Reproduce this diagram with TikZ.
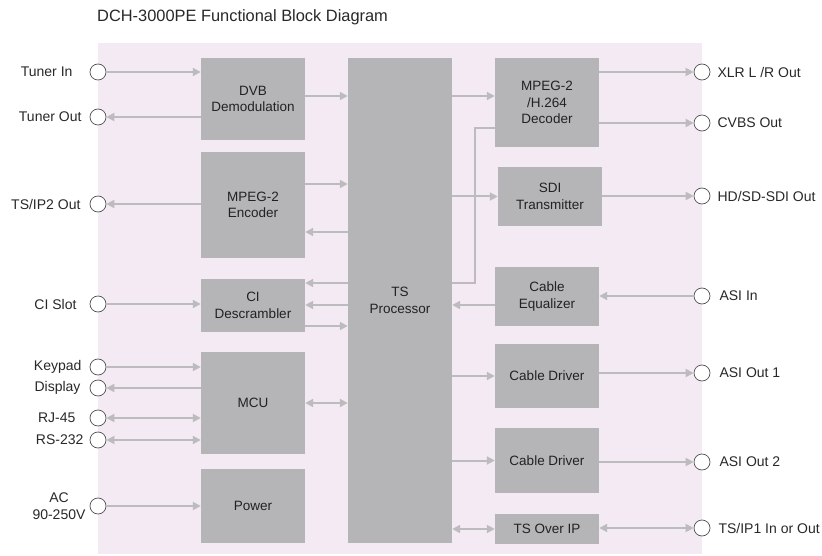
\documentclass[tikz,border=0pt]{standalone}
\usepackage{fontspec}
\setmainfont{Liberation Sans}
\usepackage{xcolor}
\usetikzlibrary{arrows.meta, positioning, calc, backgrounds}
\definecolor{panelBg}{RGB}{244, 234, 244}
\definecolor{blockFill}{RGB}{181, 181, 183}
\definecolor{blockText}{RGB}{34, 34, 34}
\definecolor{wireGray}{RGB}{188, 188, 190}
\definecolor{portBorder}{RGB}{80, 80, 80}
\definecolor{labelText}{RGB}{40, 40, 40}

\begin{document}
\begin{tikzpicture}[
    x=1pt, y=-1pt,
    >={Triangle[length=8pt, width=8pt]},
    blockBox/.style={fill=blockFill, draw=none, minimum width=104pt, inner sep=2pt, align=center, text=blockText, font=\fontsize{13.5}{16.5}\selectfont},
    portDot/.style={circle, draw=portBorder, line width=0.7pt, fill=white, minimum size=16pt, inner sep=0pt},
    portText/.style={inner sep=0pt, text=labelText, align=center, font=\fontsize{14}{17.5}\selectfont},
    titleText/.style={inner sep=0pt, text=labelText, font=\fontsize{16.4}{19}\selectfont},
    sigArrow/.style={->, line width=2pt, draw=wireGray},
    biArrow/.style={<->, line width=2pt, draw=wireGray},
    wireLine/.style={line width=2pt, draw=wireGray}
]
    \useasboundingbox (0,0) rectangle (822,556);

    % Title
    \node[titleText, anchor=west] (title) at (97,17) {DCH-3000PE Functional Block Diagram};

    % Blocks
    \node[blockBox, minimum height=82pt] (dvb) at (253,99) {DVB\\Demodulation};
    \node[blockBox, minimum height=106pt] (enc) at (253,205) {MPEG-2\\Encoder};
    \node[blockBox, minimum height=53pt] (ci) at (253,305.5) {CI\\Descrambler};
    \node[blockBox, minimum height=102pt] (mcu) at (253,403) {MCU};
    \node[blockBox, minimum height=74pt] (pwr) at (253,506) {Power};
    \node[blockBox, minimum height=485pt] (ts) at (400,300.5) {TS\\Processor};
    \node[blockBox, minimum height=89pt] (dec) at (547,102.5) {MPEG-2\\/H.264\\Decoder};
    \node[blockBox, minimum height=59pt] (sdi) at (550,196.5) {SDI\\Transmitter};
    \node[blockBox, minimum height=59pt] (eq) at (547,296.5) {Cable\\Equalizer};
    \node[blockBox, minimum height=64pt] (drv1) at (547,376) {Cable Driver};
    \node[blockBox, minimum height=65pt] (drv2) at (547,460.5) {Cable Driver};
    \node[blockBox, minimum height=30pt] (tsip) at (547,529) {TS Over IP};

    % Ports, left
    \node[portDot] (tunIn) at (98,72) {};
    \node[portDot] (tunOut) at (98,117) {};
    \node[portDot] (ipTwo) at (98,204) {};
    \node[portDot] (ciSlot) at (98,304) {};
    \node[portDot] (keypad) at (98,367) {};
    \node[portDot] (display) at (98,388) {};
    \node[portDot] (rjPort) at (98,418) {};
    \node[portDot] (rsPort) at (98,440) {};
    \node[portDot] (acIn) at (98,506) {};

    \node[portText, left=17pt of tunIn] (tunInL) {Tuner In};
    \node[portText, left=8pt of tunOut] (tunOutL) {Tuner Out};
    \node[portText, left=9pt of ipTwo] (ipTwoL) {TS/IP2 Out};
    \node[portText, left=13pt of ciSlot] (ciSlotL) {CI Slot};
    \node[portText, left=8pt of keypad] (keypadL) {Keypad};
    \node[portText, left=9pt of display] (displayL) {Display};
    \node[portText, left=14pt of rjPort] (rjPortL) {RJ-45};
    \node[portText, left=6pt of rsPort] (rsPortL) {RS-232};
    \node[portText, left=4pt of acIn] (acInL) {AC\\90-250V};

    % Ports, right
    \node[portDot] (xlr) at (702,72) {};
    \node[portDot] (cvbs) at (702,123) {};
    \node[portDot] (hdsdi) at (702,196) {};
    \node[portDot] (asiIn) at (702,296) {};
    \node[portDot] (asiOne) at (702,373) {};
    \node[portDot] (asiTwo) at (702,462) {};
    \node[portDot] (ipOne) at (702,528) {};

    \node[portText, right=7pt of xlr] (xlrL) {XLR L /R Out};
    \node[portText, right=7pt of cvbs] (cvbsL) {CVBS Out};
    \node[portText, right=7pt of hdsdi] (hdsdiL) {HD/SD-SDI Out};
    \node[portText, right=9pt of asiIn] (asiInL) {ASI In};
    \node[portText, right=9pt of asiOne] (asiOneL) {ASI Out 1};
    \node[portText, right=9pt of asiTwo] (asiTwoL) {ASI Out 2};
    \node[portText, right=8pt of ipOne] (ipOneL) {TS/IP1 In or Out};

    % Arrows, left side
    \draw[sigArrow] (tunIn) -- (tunIn -| dvb.west);
    \draw[sigArrow] (dvb.west |- tunOut) -- (tunOut);
    \draw[sigArrow] (dvb.east |- 0,96) -- (ts.west |- 0,96);
    \draw[sigArrow] (enc.west |- ipTwo) -- (ipTwo);
    \draw[sigArrow] (enc.east |- 0,184) -- (ts.west |- 0,184);
    \draw[sigArrow] (ts.west |- 0,232) -- (enc.east |- 0,232);
    \draw[sigArrow] (ciSlot) -- (ciSlot -| ci.west);
    \draw[sigArrow] (ts.west |- 0,283) -- (ci.east |- 0,283);
    \draw[sigArrow] (ts.west |- 0,305) -- (ci.east |- 0,305);
    \draw[sigArrow] (ci.east |- 0,326) -- (ts.west |- 0,326);
    \draw[sigArrow] (keypad) -- (keypad -| mcu.west);
    \draw[sigArrow] (mcu.west |- display) -- (display);
    \draw[biArrow] (rjPort) -- (rjPort -| mcu.west);
    \draw[biArrow] (rsPort) -- (rsPort -| mcu.west);
    \draw[biArrow] (mcu.east) -- (mcu.east -| ts.west);
    \draw[sigArrow] (acIn) -- (acIn -| pwr.west);

    % Arrows, right side
    \draw[sigArrow] (ts.east |- 0,96) -- (dec.west |- 0,96);
    \draw[wireLine] (dec.west |- 0,128) -- ++(-20,0) |- (ts.east |- 0,283);
    \draw[sigArrow] (ts.east |- sdi) -- (sdi.west);
    \draw[sigArrow] (dec.east |- xlr) -- (xlr);
    \draw[sigArrow] (dec.east |- cvbs) -- (cvbs);
    \draw[sigArrow] (sdi.east |- hdsdi) -- (hdsdi);
    \draw[sigArrow] (asiIn) -- (asiIn -| eq.east);
    \draw[sigArrow] (eq.west |- 0,305) -- (ts.east |- 0,305);
    \draw[sigArrow] (ts.east |- drv1) -- (drv1.west);
    \draw[sigArrow] (drv1.east |- asiOne) -- (asiOne);
    \draw[sigArrow] (ts.east |- drv2) -- (drv2.west);
    \draw[sigArrow] (drv2.east |- asiTwo) -- (asiTwo);
    \draw[biArrow] (ts.east |- tsip) -- (tsip.west);
    \draw[biArrow] (tsip.east |- ipOne) -- (ipOne);

    % Background Panel
    \begin{scope}[on background layer]
        \fill[panelBg] (98,43) rectangle (702,554);
    \end{scope}

\end{tikzpicture}
\end{document}
